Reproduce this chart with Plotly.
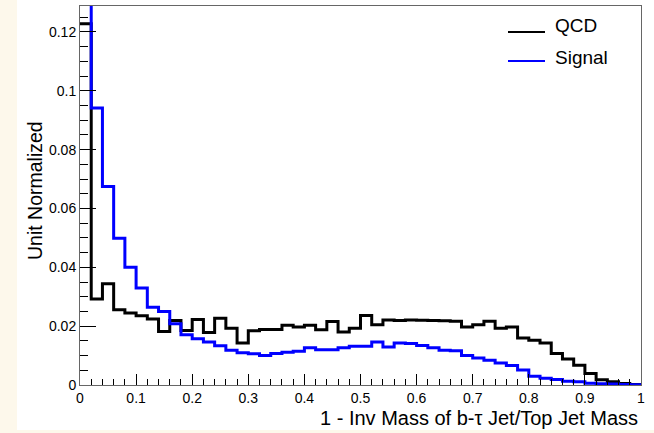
import numpy as np
import plotly.graph_objects as go

# 50 bins between 0 and 1
bin_edges = np.linspace(0.0, 1.0, 51)

qcd = [0.1228, 0.0292, 0.0344, 0.0256, 0.0245, 0.0235, 0.0224, 0.0182, 0.0219, 0.0185,
       0.0223, 0.0178, 0.0227, 0.0193, 0.0143, 0.0184, 0.0189, 0.0189, 0.0203, 0.0197,
       0.0203, 0.0188, 0.0216, 0.0180, 0.0193, 0.0236, 0.0205, 0.0221, 0.0219, 0.0221,
       0.0220, 0.0219, 0.0218, 0.0217, 0.0197, 0.0205, 0.0217, 0.0193, 0.0197, 0.0160,
       0.0152, 0.0143, 0.0107, 0.0088, 0.0067, 0.0039, 0.0018, 0.0011, 0.0005, 0.0002]

signal = [0.2670, 0.0941, 0.0675, 0.0499, 0.0400, 0.0330, 0.0264, 0.0250, 0.0208, 0.0171,
          0.0157, 0.0146, 0.0133, 0.0118, 0.0110, 0.0106, 0.0100, 0.0107, 0.0111, 0.0115,
          0.0127, 0.0120, 0.0120, 0.0127, 0.0132, 0.0132, 0.0146, 0.0129, 0.0143, 0.0141,
          0.0134, 0.0127, 0.0118, 0.0116, 0.0100, 0.0092, 0.0084, 0.0075, 0.0066, 0.0051,
          0.0030, 0.0023, 0.0019, 0.0013, 0.0011, 0.0006, 0.0004, 0.0003, 0.0002, 0.0001]

series_names = ["QCD", "Signal"]
series_colors = ["#000000", "#0000ff"]

FONT = "Liberation Sans, Arial, Helvetica, sans-serif"

# plot-area geometry in pixels (used to place paper-referenced decorations)
W, H = 654, 433
L, R, T, B = 80, 13, 6, 48
PW, PH = W - L - R, H - T - B


def px(xp):
    return (xp - L) / PW


def py(yp):
    return (H - B - yp) / PH


def step_xy(values):
    x = list(bin_edges)
    y = list(values) + [values[-1]]
    return x, y


fig = go.Figure()
for name, vals, col in zip(series_names, [qcd, signal], series_colors):
    x, y = step_xy(vals)
    fig.add_trace(go.Scatter(x=x, y=y, mode="lines", name=name,
                             line=dict(color=col, width=3, shape="hv"),
                             showlegend=False, hoverinfo="skip"))

frame_col = "#666666"
fig.update_xaxes(range=[0, 1], dtick=0.1, tick0=0, ticks="inside", ticklen=11,
                 tickcolor="#000", tickwidth=1,
                 minor=dict(dtick=0.02, ticks="inside", ticklen=6, tickcolor="#000"),
                 showline=True, linecolor=frame_col, linewidth=1, mirror=True,
                 showgrid=False, zeroline=False,
                 tickfont=dict(family=FONT, size=14, color="#000"))
fig.update_yaxes(range=[0, 0.1288], dtick=0.02, tick0=0, ticks="inside", ticklen=16,
                 tickcolor="#000", tickwidth=1,
                 minor=dict(dtick=0.005, ticks="inside", ticklen=8, tickcolor="#000"),
                 showline=True, linecolor=frame_col, linewidth=1, mirror=True,
                 showgrid=False, zeroline=False,
                 tickfont=dict(family=FONT, size=14, color="#000"))

shapes = [
    # white canvas area inside the cream page border
    dict(type="rect", xref="paper", yref="paper", layer="below",
         x0=px(17), x1=px(W + 5), y0=py(430), y1=py(-5),
         fillcolor="#ffffff", line=dict(width=0)),
]
annotations = [
    dict(text="1 - Inv Mass of b-\u03c4 Jet/Top Jet Mass", xref="paper", yref="paper",
         x=px(640), y=py(418), xanchor="right", yanchor="middle", showarrow=False,
         font=dict(family=FONT, size=20, color="#000")),
    dict(text="Unit Normalized", xref="paper", yref="paper", textangle=-90,
         x=px(35), y=py(191), xanchor="center", yanchor="middle", showarrow=False,
         font=dict(family=FONT, size=19.5, color="#000")),
]

# legend: line sample plus label for each series
legend_rows = [(32, 25), (61, 57)]
for (line_y, text_y), name, col in zip(legend_rows, series_names, series_colors):
    shapes.append(dict(type="line", xref="paper", yref="paper",
                       x0=px(508), x1=px(545), y0=py(line_y), y1=py(line_y),
                       line=dict(color=col, width=2)))
    annotations.append(dict(text=name, xref="paper", yref="paper",
                            x=px(553), y=py(text_y), xanchor="left", yanchor="middle",
                            showarrow=False,
                            font=dict(family=FONT, size=19, color="#000")))

fig.update_layout(width=W, height=H,
                  margin=dict(l=L, r=R, t=T, b=B, pad=0),
                  paper_bgcolor="#fdf8eb", plot_bgcolor="#ffffff",
                  shapes=shapes, annotations=annotations, showlegend=False)

fig.write_html("out.html")
